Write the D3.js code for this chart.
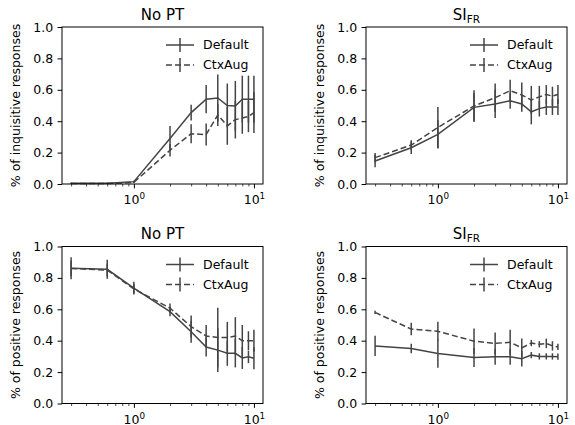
<!DOCTYPE html>
<html>
<head>
<meta charset="utf-8">
<script src="https://cdn.jsdelivr.net/npm/d3@7"></script>
<style>
  body { margin: 0; background: #fff; }
  text { font-family: "DejaVu Sans", sans-serif; fill: #000; }
</style>
</head>
<body>
<div class="chart"></div>
<script>
var width = 575, height = 425;

// data
var xs = [0.3, 0.6, 1, 2, 3, 4, 5, 6, 7, 8, 9, 10];
var seriesNames = ["Default", "CtxAug"];
var yTicks = [0, 0.2, 0.4, 0.6, 0.8, 1.0];

var inqNoPTDefault    = [0.005, 0.005, 0.015, 0.29, 0.455, 0.54, 0.548, 0.50, 0.497, 0.54, 0.54, 0.54];
var inqNoPTDefaultErr = [0.004, 0.004, 0.005, 0.08, 0.05, 0.09, 0.15, 0.14, 0.16, 0.15, 0.15, 0.15];
var inqNoPTCtx        = [0.003, 0.003, 0.01, 0.215, 0.32, 0.315, 0.44, 0.37, 0.41, 0.42, 0.43, 0.455];
var inqNoPTCtxErr     = [0.003, 0.003, 0.004, 0.04, 0.06, 0.07, 0.07, 0.12, 0.12, 0.1, 0.1, 0.13];

var inqSIDefault      = [0.146, 0.231, 0.316, 0.488, 0.51, 0.53, 0.51, 0.46, 0.48, 0.49, 0.49, 0.49];
var inqSIDefaultErr   = [0.04, 0.04, 0.09, 0.09, 0.09, 0.05, 0.05, 0.08, 0.05, 0.05, 0.05, 0.05];
var inqSICtx          = [0.168, 0.248, 0.36, 0.497, 0.55, 0.594, 0.567, 0.535, 0.555, 0.57, 0.56, 0.57];
var inqSICtxErr       = [0.03, 0.03, 0.13, 0.1, 0.09, 0.07, 0.08, 0.09, 0.07, 0.06, 0.06, 0.06];

var posNoPTDefault    = [0.862, 0.855, 0.735, 0.585, 0.457, 0.36, 0.34, 0.32, 0.32, 0.29, 0.297, 0.288];
var posNoPTDefaultErr = [0.07, 0.06, 0.04, 0.03, 0.07, 0.06, 0.14, 0.08, 0.09, 0.07, 0.04, 0.07];
var posNoPTCtx        = [0.86, 0.85, 0.73, 0.607, 0.49, 0.43, 0.42, 0.42, 0.43, 0.40, 0.40, 0.40];
var posNoPTCtxErr     = [0.05, 0.04, 0.03, 0.03, 0.07, 0.07, 0.19, 0.1, 0.12, 0.1, 0.06, 0.07];

var posSIDefault      = [0.367, 0.35, 0.318, 0.293, 0.297, 0.297, 0.285, 0.308, 0.30, 0.30, 0.30, 0.298];
var posSIDefaultErr   = [0.065, 0.03, 0.09, 0.06, 0.05, 0.05, 0.05, 0.02, 0.02, 0.02, 0.02, 0.02];
var posSICtx          = [0.58, 0.474, 0.46, 0.397, 0.383, 0.39, 0.354, 0.385, 0.377, 0.383, 0.367, 0.36];
var posSICtxErr       = [0.01, 0.04, 0.06, 0.08, 0.07, 0.08, 0.06, 0.02, 0.02, 0.03, 0.03, 0.02];

var panels = [
  { col: 0, row: 0, title: "No PT", ylabel: "% of inquisitive responses",
    series: [[inqNoPTDefault, inqNoPTDefaultErr], [inqNoPTCtx, inqNoPTCtxErr]] },
  { col: 1, row: 0, title: "SI", sub: "FR", ylabel: "% of inquisitive responses",
    series: [[inqSIDefault, inqSIDefaultErr], [inqSICtx, inqSICtxErr]] },
  { col: 0, row: 1, title: "No PT", ylabel: "% of positive responses",
    series: [[posNoPTDefault, posNoPTDefaultErr], [posNoPTCtx, posNoPTCtxErr]] },
  { col: 1, row: 1, title: "SI", sub: "FR", ylabel: "% of positive responses",
    series: [[posSIDefault, posSIDefaultErr], [posSICtx, posSICtxErr]] }
];

var lefts = [62, 366], tops = [27, 246.5];
var pw = 201, ph = 157;
var lineColor = "#444";
var dashes = [null, "6,3"];

var svg = d3.select('.chart')
  .append('svg')
  .attr('width', width)
  .attr('height', height);

var x = d3.scaleLog().domain([0.252, 11.9]).range([0, pw]);
var y = d3.scaleLinear().domain([0, 1]).range([ph, 0]);

var minorTicks = [0.3, 0.4, 0.5, 0.6, 0.7, 0.8, 0.9, 2, 3, 4, 5, 6, 7, 8, 9];

panels.forEach(function(p) {
  var g = svg.append('g')
    .attr('transform', 'translate(' + lefts[p.col] + ',' + tops[p.row] + ')');

  // y axis
  var ya = g.append('g')
    .call(d3.axisLeft(y).tickValues(yTicks).tickFormat(d3.format('.1f')).tickSize(4.4).tickPadding(4.4));
  ya.select('.domain').remove();
  ya.selectAll('text').style('font-size', '12.5px').style('font-family', '"DejaVu Sans"');
  ya.selectAll('line').attr('stroke', '#000').attr('stroke-width', 1);

  // x axis: minor + major ticks
  var xm = g.append('g').attr('transform', 'translate(0,' + ph + ')')
    .call(d3.axisBottom(x).tickValues(minorTicks).tickFormat('').tickSize(2.5));
  xm.select('.domain').remove();
  xm.selectAll('line').attr('stroke', '#000').attr('stroke-width', 0.7);

  var xa = g.append('g').attr('transform', 'translate(0,' + ph + ')')
    .call(d3.axisBottom(x).tickValues([1, 10]).tickFormat('').tickSize(4.4));
  xa.select('.domain').remove();
  xa.selectAll('line').attr('stroke', '#000').attr('stroke-width', 1);
  xa.selectAll('.tick').each(function(d) {
    var t = d3.select(this).append('text')
      .attr('y', 20)
      .attr('text-anchor', 'middle')
      .style('font-size', '12.5px')
      .attr('fill', '#000');
    t.append('tspan').text('10');
    t.append('tspan').attr('dy', -5).style('font-size', '8.8px').text(String(Math.round(Math.log10(d))));
  });

  // series
  p.series.forEach(function(s, si) {
    var vals = s[0], errs = s[1];
    var pts = xs.map(function(xv, i) { return { x: xv, y: vals[i], e: errs[i] }; });

    g.selectAll('.err' + si)
      .data(pts)
      .enter()
      .append('line')
      .attr('x1', function(d) { return x(d.x); })
      .attr('x2', function(d) { return x(d.x); })
      .attr('y1', function(d) { return y(Math.max(0, d.y - d.e)); })
      .attr('y2', function(d) { return y(d.y + d.e); })
      .attr('stroke', lineColor)
      .attr('stroke-width', 1.5);

    g.append('path')
      .datum(pts)
      .attr('fill', 'none')
      .attr('stroke', lineColor)
      .attr('stroke-width', 1.5)
      .attr('stroke-dasharray', dashes[si])
      .attr('d', d3.line().x(function(d) { return x(d.x); }).y(function(d) { return y(d.y); }));
  });

  // frame
  g.append('rect')
    .attr('width', pw).attr('height', ph)
    .attr('fill', 'none').attr('stroke', '#000').attr('stroke-width', 1);

  // title
  var tt = g.append('text')
    .attr('x', pw / 2).attr('y', -7.5)
    .attr('text-anchor', 'middle')
    .style('font-size', '15px');
  tt.append('tspan').text(p.title);
  if (p.sub) tt.append('tspan').attr('dy', 3).style('font-size', '10.5px').text(p.sub);

  // y label
  g.append('text')
    .attr('transform', 'translate(' + (-42) + ',' + (ph / 2) + ') rotate(-90)')
    .attr('text-anchor', 'middle')
    .style('font-size', '12.5px')
    .text(p.ylabel);

  // legend
  seriesNames.forEach(function(name, si) {
    var ly = 18 + si * 20;
    var lg = g.append('g').attr('transform', 'translate(' + (pw - 97) + ',' + ly + ')');
    lg.append('line').attr('x1', 0).attr('x2', 28).attr('y1', 0).attr('y2', 0)
      .attr('stroke', lineColor).attr('stroke-width', 1.5).attr('stroke-dasharray', dashes[si]);
    lg.append('line').attr('x1', 14).attr('x2', 14).attr('y1', -7).attr('y2', 7)
      .attr('stroke', lineColor).attr('stroke-width', 1.5);
    lg.append('text').attr('x', 37).attr('y', 0).attr('dy', '0.35em')
      .style('font-size', '12.5px').text(name);
  });
});
</script>
</body>
</html>
